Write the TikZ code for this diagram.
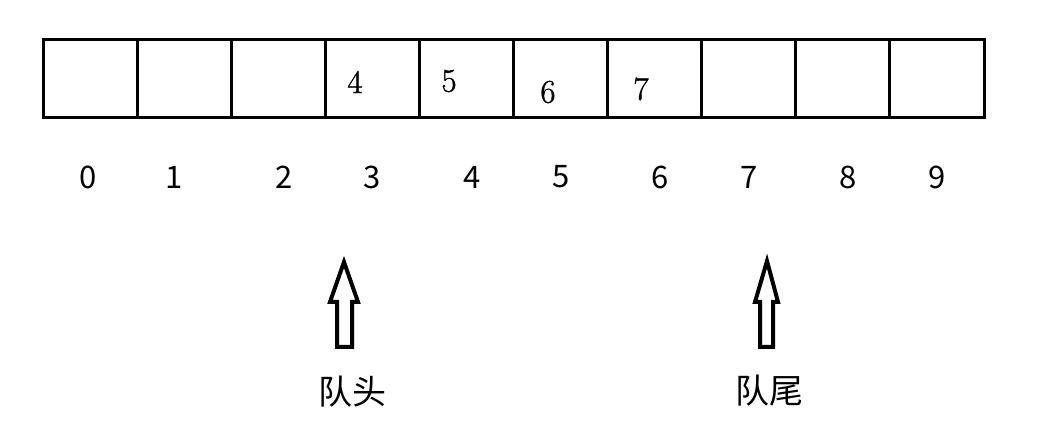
\documentclass[tikz,border=0pt]{standalone}
\usepackage{fontspec}
\newfontfamily\cjk{Noto Sans CJK SC}
\newfontfamily\valfont[FakeBold=1.2]{Latin Modern Roman}
\begin{document}
\begin{tikzpicture}[x=1pt,y=-1pt,
  cell/.style={draw,line width=3pt,minimum width=94.1pt,minimum height=78pt,inner sep=0pt,outer sep=0pt},
  val/.style={inner sep=0pt,font=\valfont\fontsize{33}{33}\selectfont},
  idx/.style={inner sep=0pt,font=\cjk\fontsize{31}{31}\selectfont},
  lbl/.style={inner sep=0pt,font=\cjk\fontsize{34}{34}\selectfont},
  hollow/.style={draw,line width=4pt,line join=miter,fill=white}]
\useasboundingbox (0,0) rectangle (1057,427);
\foreach \i in {0,...,9}{
  \node[cell] (c\i) at ({43+94.1*\i+47.05},79) {};
}
\node[val] (v4) at (355,82) {4};
\node[val] (v5) at (449,81) {5};
\node[val] (v6) at (548,92) {6};
\node[val] (v7) at (641,89) {7};
\foreach \i/\x in {0/88,1/174,2/284,3/372,4/472,5/561,6/660,7/749,8/848,9/937}{
  \node[idx] (n\i) at (\x,177) {\i};
}
\draw[hollow] (344,262) -- (358,302) -- (352,302) -- (352,347) -- (337,347) -- (337,302) -- (330,302) -- cycle;
\draw[hollow] (767,261) -- (778,302) -- (773,302) -- (773,347) -- (760,347) -- (760,302) -- (755,302) -- cycle;
\node[lbl] (head) at (352,392) {队头};
\node[lbl] (tail) at (769,391) {队尾};
\end{tikzpicture}
\end{document}
